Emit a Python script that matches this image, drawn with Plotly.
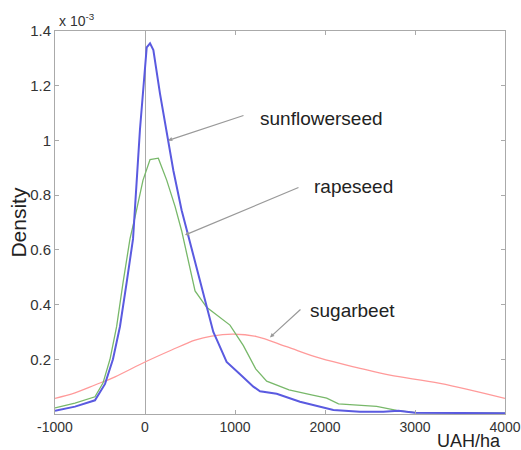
import plotly.graph_objects as go

# values in units of 1e-3
sun_x = [-1000, -778, -556, -444, -356, -278, -204, -133, -56, 19, 56, 93, 167, 241, 315, 407, 481,
         560, 620, 685, 759, 800, 907, 1056, 1204, 1278, 1463, 1722, 2093, 2389, 2648, 2815, 3000, 3500, 4000]
sun_y = [0.012, 0.027, 0.05, 0.11, 0.2, 0.32, 0.48, 0.64, 1.04, 1.34, 1.355, 1.33, 1.17, 1.03, 0.89, 0.745, 0.65,
         0.55, 0.47, 0.385, 0.30, 0.27, 0.19, 0.145, 0.10, 0.083, 0.074, 0.045, 0.015, 0.008, 0.008, 0.012, 0.005, 0.004, 0.003]

rape_x = [-1000, -778, -556, -467, -389, -315, -244, -167, -111, -22, 56, 148, 241, 333, 407, 480, 556,
          685, 800, 944, 1093, 1230, 1352, 1600, 1850, 2019, 2150, 2352, 2574, 2796, 3000, 3500, 4000]
rape_y = [0.022, 0.04, 0.063, 0.113, 0.2, 0.32, 0.48, 0.64, 0.72, 0.855, 0.93, 0.935, 0.855, 0.76, 0.67, 0.56, 0.45,
          0.39, 0.36, 0.325, 0.25, 0.165, 0.12, 0.088, 0.07, 0.058, 0.037, 0.033, 0.028, 0.013, 0.005, 0.004, 0.003]

beet_x = [-1000, -778, -556, -333, 0, 296, 556, 741, 981, 1241, 1574, 1944, 2389, 2722, 3278, 4000]
beet_y = [0.057, 0.077, 0.106, 0.136, 0.19, 0.234, 0.27, 0.285, 0.292, 0.283, 0.246, 0.204, 0.167, 0.142, 0.112, 0.057]

x_ticks = [-1000, 0, 1000, 2000, 3000, 4000]
x_tick_labels = ["-1000", "0", "1000", "2000", "3000", "4000"]
y_ticks = [0.2, 0.4, 0.6, 0.8, 1.0, 1.2, 1.4]
y_tick_labels = ["0.2", "0.4", "0.6", "0.8", "1", "1.2", "1.4"]

labels = ["sunflowerseed", "rapeseed", "sugarbeet"]
label_pos = [(1256, 1.082), (1856, 0.83), (1811, 0.38)]
arrow_tip = [(256, 1.0), (444, 0.654), (1389, 0.28)]
arrow_tail = [(1111, 1.093), (1722, 0.83), (1744, 0.387)]

FONT = "Liberation Sans, Arial, sans-serif"

fig = go.Figure()
fig.add_trace(go.Scatter(x=beet_x, y=beet_y, mode="lines", line=dict(color="#ff9a9a", width=1.3, shape="spline"), name="sugarbeet"))
fig.add_trace(go.Scatter(x=rape_x, y=rape_y, mode="lines", line=dict(color="#78b86a", width=1.3), name="rapeseed"))
fig.add_trace(go.Scatter(x=sun_x, y=sun_y, mode="lines", line=dict(color="#5a5ae0", width=2), name="sunflowerseed"))

anns = []
for lab, (tx, ty), (hx, hy), (sx, sy) in zip(labels, label_pos, arrow_tip, arrow_tail):
    anns.append(dict(x=hx, y=hy, ax=sx, ay=sy, xref="x", yref="y", axref="x", ayref="y",
                     showarrow=True, arrowhead=2, arrowsize=0.7, arrowwidth=1.2, arrowcolor="#999", text=""))
    anns.append(dict(x=tx, y=ty, xref="x", yref="y", text=lab, showarrow=False, xanchor="left", yanchor="middle",
                     font=dict(family=FONT, size=19, color="#222")))

anns.append(dict(x=-0.082, y=0.5, xref="paper", yref="paper", text="Density", textangle=-90, showarrow=False,
                 xanchor="center", yanchor="middle", font=dict(family=FONT, size=21, color="#222")))
anns.append(dict(x=0.92, y=-0.070, xref="paper", yref="paper", text="UAH/ha", showarrow=False,
                 xanchor="center", yanchor="middle", font=dict(family=FONT, size=18, color="#222")))
anns.append(dict(x=0.004, y=1.0, xref="paper", yref="paper", text="x 10<sup>-3</sup>", showarrow=False,
                 xanchor="left", yanchor="bottom", font=dict(family=FONT, size=14, color="#333")))

fig.update_layout(
    width=521, height=450,
    margin=dict(l=55, r=16, t=31, b=36),
    paper_bgcolor="white", plot_bgcolor="white",
    showlegend=False,
    annotations=anns,
    font=dict(family=FONT, size=14, color="#333"),
    xaxis=dict(range=[-1000, 4000], tickvals=x_ticks, ticktext=x_tick_labels, ticks="inside", ticklen=4, tickcolor="#aaa",
               showline=True, linecolor="#aaa", linewidth=1, mirror="ticks", showgrid=False, automargin=False,
               ticklabeloverflow="allow",
               zeroline=True, zerolinecolor="#aaa", zerolinewidth=1, tickfont=dict(size=14)),
    yaxis=dict(range=[0, 1.4], tickvals=y_ticks, ticktext=y_tick_labels, ticks="inside", ticklen=4, tickcolor="#aaa",
               showline=True, linecolor="#aaa", linewidth=1, mirror="ticks", showgrid=False, zeroline=False,
               automargin=False, tickfont=dict(size=15)),
)

# remove the default 8px body margin so the figure fills the window exactly; hide the modebar
fig.write_html("out.html", config={"displayModeBar": False},
               post_script="document.body.style.margin='0px';document.body.style.overflow='hidden';")
